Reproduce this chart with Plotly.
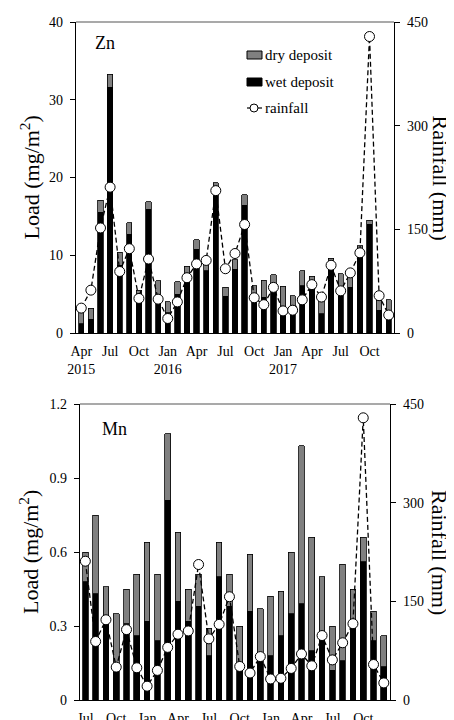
import plotly.graph_objects as go
from plotly.subplots import make_subplots

# ---------------- data ----------------
months = ["2015-04", "2015-05", "2015-06", "2015-07", "2015-08", "2015-09", "2015-10",
          "2015-11", "2015-12", "2016-01", "2016-02", "2016-03", "2016-04", "2016-05",
          "2016-06", "2016-07", "2016-08", "2016-09", "2016-10", "2016-11", "2016-12",
          "2017-01", "2017-02", "2017-03", "2017-04", "2017-05", "2017-06", "2017-07",
          "2017-08", "2017-09", "2017-10", "2017-11", "2017-12"]

rainfall = [36, 62, 152, 211, 89, 122, 50, 107, 49, 21, 45, 80, 100, 105, 206, 93, 115,
            157, 51, 41, 66, 32, 33, 48, 70, 52, 98, 61, 87, 116, 429, 54, 26]

zn_wet = [1.2, 1.8, 15.5, 31.6, 8.7, 12.7, 5.0, 15.9, 5.0, 2.6, 5.0, 7.6, 10.8, 8.0, 18.7,
          4.7, 8.2, 16.4, 5.0, 4.6, 5.9, 3.3, 3.5, 6.1, 6.8, 2.5, 9.2, 6.0, 5.9, 10.8, 14.0,
          2.9, 2.9]
zn_dry = [1.5, 1.4, 1.6, 1.7, 1.7, 1.5, 0.5, 1.0, 1.7, 1.4, 1.6, 1.0, 1.2, 1.3, 0.6,
          1.2, 1.2, 1.4, 1.1, 2.2, 1.6, 2.7, 1.3, 1.9, 0.5, 2.3, 0.4, 1.6, 2.1, 0.4, 0.5,
          1.3, 1.4]

mn_months = months[3:]
mn_rainfall = rainfall[3:]
mn_wet = [0.48, 0.43, 0.32, 0.15, 0.31, 0.26, 0.32, 0.24, 0.81, 0.40, 0.32, 0.38, 0.18,
          0.50, 0.38, 0.135, 0.36, 0.16, 0.18, 0.26, 0.35, 0.39, 0.20, 0.24, 0.12, 0.16,
          0.31, 0.56, 0.24, 0.135]
mn_dry = [0.12, 0.32, 0.14, 0.20, 0.14, 0.25, 0.32, 0.27, 0.27, 0.28, 0.13, 0.13, 0.11,
          0.14, 0.13, 0.165, 0.23, 0.21, 0.24, 0.18, 0.25, 0.64, 0.46, 0.26, 0.18, 0.39,
          0.14, 0.10, 0.12, 0.125]

zn_tickvals = ["2015-04", "2015-07", "2015-10", "2016-01", "2016-04", "2016-07", "2016-10",
               "2017-01", "2017-04", "2017-07", "2017-10"]
zn_ticktext = ["Apr<br>2015", "Jul", "Oct", "Jan<br>2016", "Apr", "Jul", "Oct",
               "Jan<br>2017", "Apr", "Jul", "Oct"]
mn_tickvals = ["2015-07", "2015-10", "2016-01", "2016-04", "2016-07", "2016-10",
               "2017-01", "2017-04", "2017-07", "2017-10"]
mn_ticktext = ["Jul", "Oct", "Jan", "Apr", "Jul", "Oct", "Jan", "Apr", "Jul", "Oct"]

zn_yticks = [0, 10, 20, 30, 40]
mn_yticks = [0, 0.3, 0.6, 0.9, 1.2]
mn_yticktext = ["0", "0.3", "0.6", "0.9", "1.2"]
rain_ticks = [0, 150, 300, 450]

legend_labels = ["dry deposit", "wet deposit", "rainfall"]

# ---------------- figure ----------------
FONT = "Liberation Serif, Times New Roman, serif"
OFF = 8                      # page body margin in the browser
W, H = 454 - OFF, 720 - OFF
DRY = "#808080"
WET = "#000000"

fig = make_subplots(rows=2, cols=1, specs=[[{"secondary_y": True}], [{"secondary_y": True}]])

bar_w = 0.55
outline = dict(color="black", width=0.8)
rain_line = dict(color="black", width=1.3, dash="5px,3px")
rain_marker = dict(symbol="circle", size=10, color="white", line=dict(color="black", width=1))

# Zn panel
fig.add_trace(go.Bar(x=months, y=zn_wet, name="wet deposit", marker=dict(color=WET, line=outline),
                     width=bar_w, showlegend=False), row=1, col=1, secondary_y=False)
fig.add_trace(go.Bar(x=months, y=zn_dry, name="dry deposit", marker=dict(color=DRY, line=outline),
                     width=bar_w, showlegend=False), row=1, col=1, secondary_y=False)
fig.add_trace(go.Scatter(x=months, y=rainfall, name="rainfall", mode="lines+markers",
                         line=rain_line, marker=rain_marker, showlegend=False),
              row=1, col=1, secondary_y=True)

# Mn panel
fig.add_trace(go.Bar(x=mn_months, y=mn_wet, name="wet deposit", marker=dict(color=WET, line=outline),
                     width=bar_w, showlegend=False), row=2, col=1, secondary_y=False)
fig.add_trace(go.Bar(x=mn_months, y=mn_dry, name="dry deposit", marker=dict(color=DRY, line=outline),
                     width=bar_w, showlegend=False), row=2, col=1, secondary_y=False)
fig.add_trace(go.Scatter(x=mn_months, y=mn_rainfall, name="rainfall", mode="lines+markers",
                         line=rain_line, marker=rain_marker, showlegend=False),
              row=2, col=1, secondary_y=True)

def px_x(p):
    return (p - OFF) / W

def px_y(p):
    return 1 - (p - OFF) / H

# panel geometry (window pixels)
top = dict(l=76, r=394, t=22, b=333)
bot = dict(l=80, r=390, t=404, b=700)

tickfont = dict(family=FONT, size=14, color="black")

xcommon = dict(type="category", showgrid=False, zeroline=False, showline=True,
               linecolor="black", linewidth=1.2, ticks="outside", ticklen=5,
               tickcolor="rgba(0,0,0,0)", automargin=False, tickfont=tickfont)
ycommon = dict(showgrid=False, zeroline=False, showline=True, linecolor="black",
               linewidth=1.2, ticks="outside", ticklen=5, tickwidth=1.2, tickcolor="black",
               tickfont=tickfont, automargin=False, ticklabelstandoff=4)

fig.update_layout(
    xaxis=dict(xcommon, domain=[px_x(top["l"]), px_x(top["r"])], range=[-0.55, 32.55],
               tickvals=zn_tickvals, ticktext=zn_ticktext),
    yaxis=dict(ycommon, domain=[px_y(top["b"]), px_y(top["t"])], range=[0, 40],
               tickvals=zn_yticks),
    yaxis2=dict(ycommon, range=[0, 450], tickvals=rain_ticks),
    xaxis2=dict(xcommon, domain=[px_x(bot["l"]), px_x(bot["r"])], range=[-0.52, 29.6],
                tickvals=mn_tickvals, ticktext=mn_ticktext),
    yaxis3=dict(ycommon, domain=[px_y(bot["b"]), px_y(bot["t"])], range=[0, 1.2],
                tickvals=mn_yticks, ticktext=mn_yticktext),
    yaxis4=dict(ycommon, range=[0, 450], tickvals=rain_ticks),
)

fig.update_layout(
    width=W, height=H,
    margin=dict(l=0, r=0, t=0, b=0),
    paper_bgcolor="white", plot_bgcolor="white",
    barmode="stack",
    font=dict(family=FONT, size=14, color="black"),
    showlegend=False,
)

shapes = []
# top borders of both panels
for p in (top, bot):
    shapes.append(dict(type="line", xref="paper", yref="paper",
                       x0=px_x(p["l"]), x1=px_x(p["r"]), y0=px_y(p["t"]), y1=px_y(p["t"]),
                       line=dict(color="#555555", width=1.2)))

# legend swatches (top panel)
leg_rows = [55, 82, 108]
shapes.append(dict(type="rect", xref="paper", yref="paper",
                   x0=px_x(247), x1=px_x(262), y0=px_y(leg_rows[0] - 4), y1=px_y(leg_rows[0] + 4),
                   fillcolor=DRY, line=dict(color="black", width=1)))
shapes.append(dict(type="rect", xref="paper", yref="paper",
                   x0=px_x(247), x1=px_x(262), y0=px_y(leg_rows[1] - 4), y1=px_y(leg_rows[1] + 4),
                   fillcolor=WET, line=dict(color="black", width=1)))
shapes.append(dict(type="line", xref="paper", yref="paper",
                   x0=px_x(247), x1=px_x(262), y0=px_y(leg_rows[2]), y1=px_y(leg_rows[2]),
                   line=dict(color="black", width=1.2)))
shapes.append(dict(type="circle", xref="paper", yref="paper",
                   x0=px_x(250), x1=px_x(258), y0=px_y(leg_rows[2] - 4), y1=px_y(leg_rows[2] + 4),
                   fillcolor="white", line=dict(color="black", width=1)))

# panel labels and axis titles
ann = []
for lab, yy in zip(legend_labels, leg_rows):
    ann.append(dict(text=lab, x=px_x(263), y=px_y(yy), xanchor="left", yanchor="middle",
                    font=dict(family=FONT, size=15)))
ann.append(dict(text="Zn", x=px_x(93), y=px_y(43), xanchor="left", yanchor="middle",
                font=dict(family=FONT, size=18)))
ann.append(dict(text="Mn", x=px_x(100), y=px_y(429), xanchor="left", yanchor="middle",
                font=dict(family=FONT, size=18)))
for p in (top, bot):
    yc = px_y((p["t"] + p["b"]) / 2)
    ann.append(dict(text="Load (mg/m<sup>2</sup>)", x=px_x(29), y=yc, textangle=-90,
                    xanchor="center", yanchor="middle", font=dict(family=FONT, size=22)))
    ann.append(dict(text="Rainfall (mm)", x=px_x(440), y=yc, textangle=90,
                    xanchor="center", yanchor="middle", font=dict(family=FONT, size=22)))
for a in ann:
    a.update(xref="paper", yref="paper", showarrow=False)
fig.update_layout(annotations=ann, shapes=shapes)

fig.write_html("out.html")
